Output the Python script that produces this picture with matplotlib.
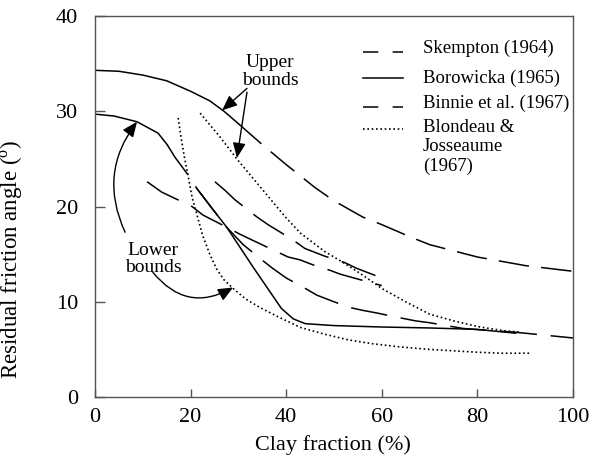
import matplotlib
matplotlib.use("Agg")
import matplotlib.pyplot as plt

plt.rcParams['font.family'] = ['Liberation Serif', 'DejaVu Serif']
plt.rcParams['mathtext.fontset'] = 'custom'
plt.rcParams['mathtext.rm'] = 'Liberation Serif'

# upper bound: solid start, dashed tail
upper_solid_x = [0, 5, 10, 15, 20, 24, 27, 30]
upper_solid_y = [34.3, 34.2, 33.8, 33.2, 32.1, 31.1, 30.0, 28.7]
upper_dash_x = [30, 35, 40, 46, 50, 56, 60, 66, 70, 80, 90, 100]
upper_dash_y = [28.7, 26.5, 24.4, 22.0, 20.6, 18.9, 18.1, 16.8, 16.0, 14.7, 13.8, 13.2]

# lower bound: solid start, dashed tail
lower_solid_x = [0, 4, 8.8, 13.2, 15.1]
lower_solid_y = [29.7, 29.5, 28.9, 27.7, 26.5]
lower_dash_x = [15.1, 16.7, 19.5, 21.3, 24.5, 27.6, 31, 34.9, 37.2, 40, 44, 46.4,
                50, 53.3, 56, 59.2, 62, 67, 70, 77, 82, 88, 95, 100]
lower_dash_y = [26.5, 25.2, 23.3, 21.9, 19.8, 17.8, 16.0, 14.4, 13.5, 12.5, 11.4, 10.7,
                10.0, 9.4, 9.1, 8.8, 8.5, 8.0, 7.8, 7.2, 7.0, 6.8, 6.45, 6.2]

# Borowicka lower line
borowicka_x = [21.3, 24.5, 27.6, 33, 39, 41.5, 44, 50, 60, 70, 80, 88]
borowicka_y = [21.9, 19.8, 17.8, 13.7, 9.3, 8.2, 7.7, 7.5, 7.35, 7.25, 7.1, 6.7]

# Binnie et al. pair
binnie_a_x = [10.9, 14, 16.1, 20.3, 22.6, 26.5, 30.3, 32.8, 36.6, 40.4, 42.9, 46, 49.2, 51.3, 55.6, 60]
binnie_a_y = [22.6, 21.5, 21.0, 20.0, 19.1, 18.1, 17.1, 16.5, 15.6, 14.7, 14.4, 13.8, 13.3, 12.9, 12.3, 11.7]
binnie_b_x = [25.1, 27.2, 29.3, 33.9, 36.2, 41.4, 43.9, 48, 52.3, 54.8, 60]
binnie_b_y = [22.6, 21.7, 20.7, 18.9, 18.1, 16.5, 15.6, 14.8, 14.1, 13.5, 12.5]

# Blondeau & Josseaume bounds
blondeau_up_x = [22, 26, 30, 35, 40, 43, 48, 52, 56, 60, 65, 70, 75, 80, 85, 89]
blondeau_up_y = [29.8, 27.4, 24.8, 21.8, 18.8, 17.2, 15.3, 14.1, 12.8, 11.4, 10.0, 8.7, 8.0, 7.4, 7.0, 6.8]
blondeau_lo_x = [17.4, 18.0, 18.7, 19.5, 20.3, 21.3, 22.5, 24, 25.5, 27, 28.9, 31.5, 34.5,
                 38, 43, 48, 53, 58, 64, 70, 75, 80, 85, 91]
blondeau_lo_y = [29.3, 27.3, 25.2, 23.2, 21.0, 19.2, 17.0, 15.0, 13.4, 12.3, 11.4, 10.3, 9.4,
                 8.5, 7.3, 6.6, 6.0, 5.6, 5.25, 5.0, 4.85, 4.7, 4.6, 4.6]

legend_labels = ['Skempton (1964)', 'Borowicka (1965)', 'Binnie et al. (1967)',
                 'Blondeau &\nJosseaume\n(1967)']

fig = plt.figure(figsize=(5.91, 4.63), dpi=100)
ax = fig.add_axes([0.1607, 0.1425, 0.8088, 0.8229])

lw = 1.1
long_dash = (0, (20, 8))
dash = (0, (24, 9))
dots = (0, (1, 1.6))

ax.plot(upper_solid_x, upper_solid_y, color='black', lw=lw)
ax.plot(upper_dash_x, upper_dash_y, color='black', lw=lw, linestyle=long_dash)
ax.plot(lower_solid_x, lower_solid_y, color='black', lw=lw)
ax.plot(lower_dash_x, lower_dash_y, color='black', lw=lw, linestyle=dash)
ax.plot(borowicka_x, borowicka_y, color='black', lw=lw)
ax.plot(binnie_a_x, binnie_a_y, color='black', lw=lw, linestyle=dash)
ax.plot(binnie_b_x, binnie_b_y, color='black', lw=lw, linestyle=dash)
ax.plot(blondeau_up_x, blondeau_up_y, color='black', lw=1.2, linestyle=dots)
ax.plot(blondeau_lo_x, blondeau_lo_y, color='black', lw=1.2, linestyle=dots)

# hand-made legend
styles = [(0, (10, 9.4)), '-', (0, (10, 9.4)), dots]
sample_y = [36.2, 33.5, 30.4, 28.1]
text_y = [36.6, 33.5, 30.8, 29.2]
for st, sy, ty, lab in zip(styles, sample_y, text_y, legend_labels):
    ax.plot([56.1, 64.4], [sy, sy], color='black', lw=1.2 if st is dots else lw, linestyle=st)
    va = 'top' if '\n' in lab else 'center'
    ax.text(68.6, ty, lab, fontsize=13.5, va=va, ha='left', linespacing=1.2)

# annotations
arrow = dict(arrowstyle='-|>,head_length=0.7,head_width=0.3', color='black', lw=1.0,
             shrinkA=0, shrinkB=0, mutation_scale=13)
ax.text(36.6, 34.2, 'Upper\nbounds', fontsize=14, ha='center', va='center', linespacing=1.05)
ax.annotate('', xy=(26.6, 30.1), xytext=(31.8, 32.4), arrowprops=arrow)
ax.annotate('', xy=(29.7, 25.1), xytext=(31.8, 32.0), arrowprops=arrow)

ax.text(12.2, 14.5, 'Lower\nbounds', fontsize=14, ha='center', va='center', linespacing=1.05)
ax.annotate('', xy=(8.8, 28.9), xytext=(6.3, 17.3),
            arrowprops=dict(arrow, connectionstyle='arc3,rad=-0.3'))
ax.annotate('', xy=(28.9, 11.5), xytext=(12.1, 13.1),
            arrowprops=dict(arrow, connectionstyle='arc3,rad=0.42'))

ax.set_xlim(0, 100)
ax.set_ylim(0, 40)
ax.set_xticks([0, 20, 40, 60, 80, 100])
ax.set_yticks([0, 10, 20, 30, 40])
ax.tick_params(axis='x', direction='in', length=6, width=1, pad=8, labelsize=16, color='#555555')
ax.tick_params(axis='y', direction='in', length=7, width=1, pad=12, labelsize=16, color='#555555')
for s in ax.spines.values():
    s.set_color('#555555')
    s.set_linewidth(1.0)

ax.set_xlabel('Clay fraction (%)', fontsize=16)
ax.set_ylabel(r'Residual friction angle ($^{\mathrm{o}}$)', fontsize=16.5)
ax.xaxis.set_label_coords(0.498, -0.10)
ax.yaxis.set_label_coords(-0.146, 0.36)

fig.savefig('out.png', dpi=100)
